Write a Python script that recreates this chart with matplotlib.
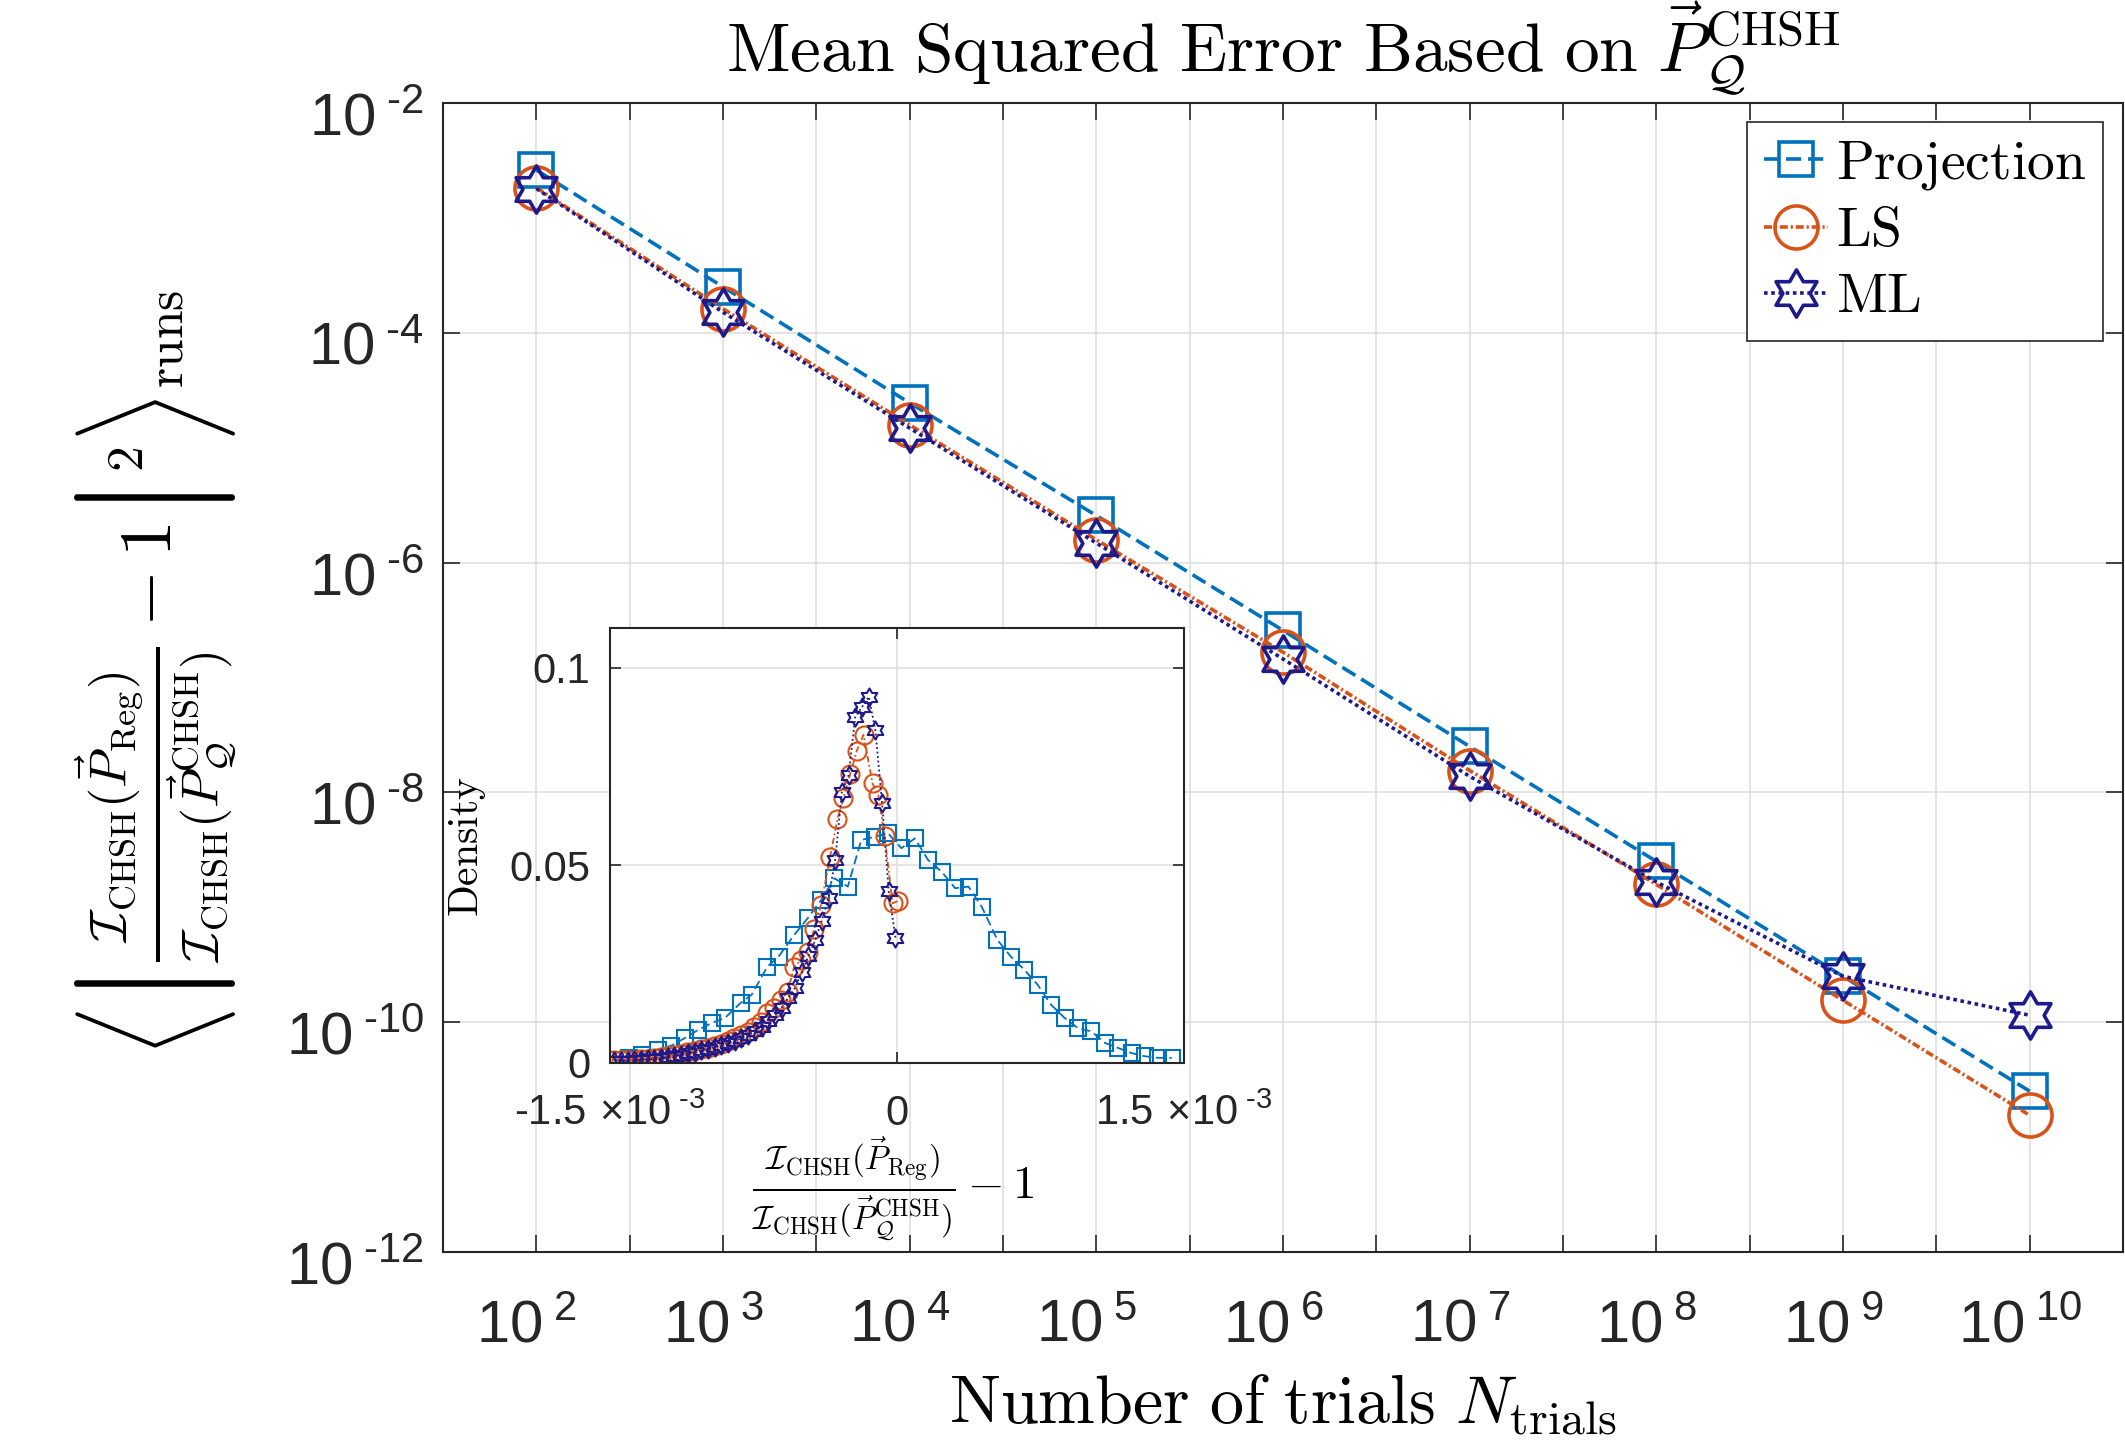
import numpy as np
import matplotlib
matplotlib.use('Agg')
import matplotlib.pyplot as plt
from matplotlib.path import Path
from matplotlib.ticker import NullLocator, FixedLocator, FixedFormatter
from matplotlib.transforms import ScaledTranslation

plt.rcParams['font.family'] = ['Liberation Sans', 'DejaVu Sans']
plt.rcParams['mathtext.fontset'] = 'cm'

# --- data: main plot (mean squared error vs number of trials) ---
n_trials = [1e2, 1e3, 1e4, 1e5, 1e6, 1e7, 1e8, 1e9, 1e10]
mse_proj = [2.61e-3, 2.51e-4, 2.45e-5, 2.57e-6, 2.57e-7, 2.51e-8, 2.51e-9, 2.51e-10, 2.51e-11]
mse_ls = [1.83e-3, 1.62e-4, 1.58e-5, 1.58e-6, 1.66e-7, 1.55e-8, 1.58e-9, 1.55e-10, 1.55e-11]
mse_ml = [1.80e-3, 1.51e-4, 1.48e-5, 1.48e-6, 1.45e-7, 1.38e-8, 1.66e-9, 2.51e-10, 1.15e-10]

# --- data: inset (density of relative deviation, x in units of 1e-3) ---
dev_proj = [-1.483, -1.401, -1.331, -1.249, -1.179, -1.109, -1.039, -0.969, -0.899, -0.817,
            -0.759, -0.677, -0.619, -0.537, -0.467, -0.397, -0.327, -0.257, -0.187, -0.117,
            -0.047, 0.023, 0.093, 0.163, 0.233, 0.304, 0.374, 0.444, 0.525, 0.595,
            0.665, 0.735, 0.806, 0.876, 0.946, 1.016, 1.086, 1.156, 1.226, 1.296,
            1.366, 1.436]
dens_proj = [0.0008, 0.0013, 0.0021, 0.0034, 0.0044, 0.0063, 0.0084, 0.0101, 0.0114, 0.0152,
             0.0173, 0.0244, 0.0269, 0.0324, 0.0366, 0.0412, 0.0467, 0.0446, 0.0564, 0.0572,
             0.0581, 0.0543, 0.0568, 0.0513, 0.0484, 0.0442, 0.0446, 0.0394, 0.0311, 0.0269,
             0.0236, 0.0198, 0.0147, 0.0114, 0.0088, 0.0080, 0.0051, 0.0038, 0.0025, 0.0017,
             0.0013, 0.0013]

dev_ls = [-1.480, -1.445, -1.410, -1.375, -1.340, -1.305, -1.270, -1.235, -1.200, -1.165,
          -1.130, -1.095, -1.060, -1.025, -0.990, -0.955, -0.920, -0.885, -0.850, -0.815,
          -0.780, -0.745, -0.710, -0.677, -0.642, -0.607, -0.572, -0.537, -0.502, -0.467,
          -0.432, -0.397, -0.350, -0.311, -0.280, -0.245, -0.210, -0.175, -0.128, -0.098,
          -0.065, -0.023, 0.007]
dens_ls = [0.0008, 0.0007, 0.0007, 0.0008, 0.0009, 0.0010, 0.0012, 0.0014, 0.0017, 0.0020,
           0.0023, 0.0027, 0.0031, 0.0035, 0.0039, 0.0044, 0.0049, 0.0055, 0.0062, 0.0070,
           0.0079, 0.0090, 0.0103, 0.0126, 0.0140, 0.0160, 0.0180, 0.0244, 0.0260, 0.0280,
           0.0340, 0.0400, 0.0520, 0.0617, 0.0670, 0.0730, 0.0790, 0.0830, 0.0707, 0.0678,
           0.0574, 0.0404, 0.0410]

dev_ml = [-1.478, -1.443, -1.408, -1.373, -1.338, -1.303, -1.268, -1.233, -1.198, -1.163,
          -1.128, -1.093, -1.058, -1.023, -0.988, -0.953, -0.918, -0.883, -0.848, -0.813,
          -0.778, -0.743, -0.708, -0.673, -0.638, -0.603, -0.568, -0.533, -0.498, -0.463,
          -0.428, -0.393, -0.358, -0.323, -0.288, -0.253, -0.218, -0.183, -0.148, -0.113,
          -0.078, -0.043, -0.008]
dens_ml = [0.0006, 0.0006, 0.0006, 0.0007, 0.0008, 0.0009, 0.0010, 0.0012, 0.0015, 0.0018,
           0.0021, 0.0025, 0.0028, 0.0032, 0.0036, 0.0040, 0.0045, 0.0050, 0.0056, 0.0063,
           0.0071, 0.0080, 0.0092, 0.0105, 0.0122, 0.0140, 0.0165, 0.0190, 0.0230, 0.0270,
           0.0310, 0.0360, 0.0417, 0.0513, 0.0686, 0.0728, 0.0875, 0.0900, 0.0926, 0.0842,
           0.0657, 0.0434, 0.0316]

labels = [r'$\mathrm{Projection}$', r'$\mathrm{LS}$', r'$\mathrm{ML}$']
c_proj = '#0072BD'
c_ls = '#D95319'
c_ml = '#1E1A8C'
ax_col = '#262626'
grid_col = '#dfdfdf'
HY = '\u2010'  # short hyphen, as MATLAB draws the minus in tick labels

# six-pointed star (hexagram) marker like MATLAB's 'h'
ang = np.deg2rad(90 + 30 * np.arange(12))
rad = np.where(np.arange(12) % 2 == 0, 1.0, 1 / np.sqrt(3))
verts = np.column_stack([rad * np.cos(ang), rad * np.sin(ang)])
hexagram = Path(np.vstack([verts, verts[:1]]), closed=True)

fig = plt.figure(figsize=(21.25, 14.44), dpi=100)
ax = fig.add_axes([443 / 2125, 1 - 1252 / 1444, 1680 / 2125, 1149 / 1444])

ax.plot(n_trials, mse_proj, ls=(0, (4.2, 1.9)), color=c_proj, lw=2.6,
        marker='s', ms=25, mfc='none', mew=2.6, label=labels[0])
ax.plot(n_trials, mse_ls, ls=(0, (2.2, 0.8, 0.6, 0.8)), color=c_ls, lw=2.6,
        marker='o', ms=31, mfc='none', mew=2.6, label=labels[1])
ax.plot(n_trials, mse_ml, ls=(0, (1.0, 1.0)), color=c_ml, lw=2.6,
        marker=hexagram, ms=34, mfc='none', mew=2.6, label=labels[2])

ax.set_xscale('log')
ax.set_yscale('log')
ax.set_xlim(10 ** 1.5, 10 ** 10.5)
ax.set_ylim(1e-12, 1e-2)

xexp = np.arange(2, 10.5, 0.5)
ax.xaxis.set_major_locator(FixedLocator(10 ** xexp))
ax.xaxis.set_major_formatter(FixedFormatter(
    [r'$\mathdefault{10^{\;%d}}$' % e if e == int(e) else '' for e in xexp]))
yexp = np.arange(-12, -1, 2)
ax.yaxis.set_major_locator(FixedLocator(10.0 ** yexp))
ax.yaxis.set_major_formatter(FixedFormatter(
    [r'$\mathdefault{10^{\;%s%d}}$' % (HY, -e) for e in yexp]))
ax.xaxis.set_minor_locator(NullLocator())
ax.yaxis.set_minor_locator(NullLocator())

ax.tick_params(which='both', direction='in', length=12, width=1.2, colors=ax_col,
               top=True, right=True, labelsize=43)
ax.tick_params(axis='x', pad=34)
ax.tick_params(axis='y', pad=14)
ax.grid(True, color=grid_col, lw=1.2)
ax.set_axisbelow(True)
for s in ax.spines.values():
    s.set_color(ax_col)
    s.set_linewidth(1.5)

# MATLAB-like label placement: x labels a bit left, y labels a bit lower
for t in ax.xaxis.get_major_ticks():
    t.label1.set_transform(t.label1.get_transform()
                           + ScaledTranslation(-0.10, 0, fig.dpi_scale_trans))
for t in ax.yaxis.get_major_ticks():
    t.label1.set_transform(t.label1.get_transform()
                           + ScaledTranslation(0, -0.11, fig.dpi_scale_trans))

leg = ax.legend(loc='upper right', bbox_to_anchor=(2103 / 2125, 1 - 122 / 1444),
                bbox_transform=fig.transFigure, borderaxespad=0, fontsize=40,
                handlelength=1.15, handletextpad=0.15, labelspacing=0.25,
                borderpad=0.3, fancybox=False, framealpha=1, edgecolor=ax_col)
leg.get_frame().set_linewidth(1.2)

fig.text(1283 / 2125, 1 - 71 / 1444,
         r'$\mathrm{Mean\ Squared\ Error\ Based\ on}\ \vec{P}_{\mathcal{Q}}^{\mathrm{CHSH}}$',
         fontsize=50, ha='center', va='baseline')
fig.text(1283 / 2125, 1 - 1423 / 1444, r'$\mathrm{Number\ of\ trials}\ N_{\mathrm{trials}}$',
         fontsize=49, ha='center', va='baseline')
fig.text(156 / 2125, 1 - 673 / 1444,
         r'$\left\langle\left|\frac{\mathcal{I}_{\mathrm{CHSH}}(\vec{P}_{\mathrm{Reg}})}'
         r'{\mathcal{I}_{\mathrm{CHSH}}(\vec{P}_{\mathcal{Q}}^{\mathrm{CHSH}})} - 1\right|^2'
         r'\right\rangle_{\mathrm{runs}}$',
         fontsize=53, rotation=90, ha='center', va='center')

# --- inset ---
ax2 = fig.add_axes([610 / 2125, 1 - 1063 / 1444, 574 / 2125, 435 / 1444])
ax2.set_zorder(3)
ax2.set_facecolor('white')
ax2.plot(dev_proj, dens_proj, ls=(0, (5, 2.5)), color=c_proj, lw=1.3,
         marker='s', ms=11, mfc='none', mew=1.5)
ax2.plot(dev_ls, dens_ls, ls=(0, (3.5, 1.5, 1, 1.5)), color=c_ls, lw=1.3,
         marker='o', ms=13, mfc='none', mew=1.5)
ax2.plot(dev_ml, dens_ml, ls=(0, (1, 1.5)), color=c_ml, lw=1.3,
         marker=hexagram, ms=13, mfc='none', mew=1.5)
ax2.set_xlim(-1.5, 1.5)
ax2.set_ylim(0, 0.11)
ax2.set_xticks([-1.5, 0, 1.5])
ax2.set_xticklabels([r'$\mathdefault{%s1.5\,\times\!10^{\;%s3}}$' % (HY, HY), '0',
                     r'$\mathdefault{1.5\,\times\!10^{\;%s3}}$' % HY])
ax2.set_yticks([0, 0.05, 0.1])
ax2.set_yticklabels(['0', '0.05', '0.1'])
ax2.tick_params(direction='in', length=8, width=1.2, colors=ax_col,
                top=True, right=True, labelsize=30, pad=14)
ax2.tick_params(axis='x', pad=22)
ax2.grid(True, color=grid_col, lw=1.2)
ax2.set_axisbelow(True)
for s in ax2.spines.values():
    s.set_color(ax_col)
    s.set_linewidth(1.5)
fig.text(468 / 2125, 1 - 847 / 1444, r'$\mathrm{Density}$', fontsize=30,
         rotation=90, ha='center', va='center', zorder=5)
fig.text(893 / 2125, 1 - 1189 / 1444,
         r'$\frac{\mathcal{I}_{\mathrm{CHSH}}(\vec{P}_{\mathrm{Reg}})}'
         r'{\mathcal{I}_{\mathrm{CHSH}}(\vec{P}_{\mathcal{Q}}^{\mathrm{CHSH}})} - 1$',
         fontsize=34, ha='center', va='center', zorder=5)

fig.savefig('out.png', dpi=100)
